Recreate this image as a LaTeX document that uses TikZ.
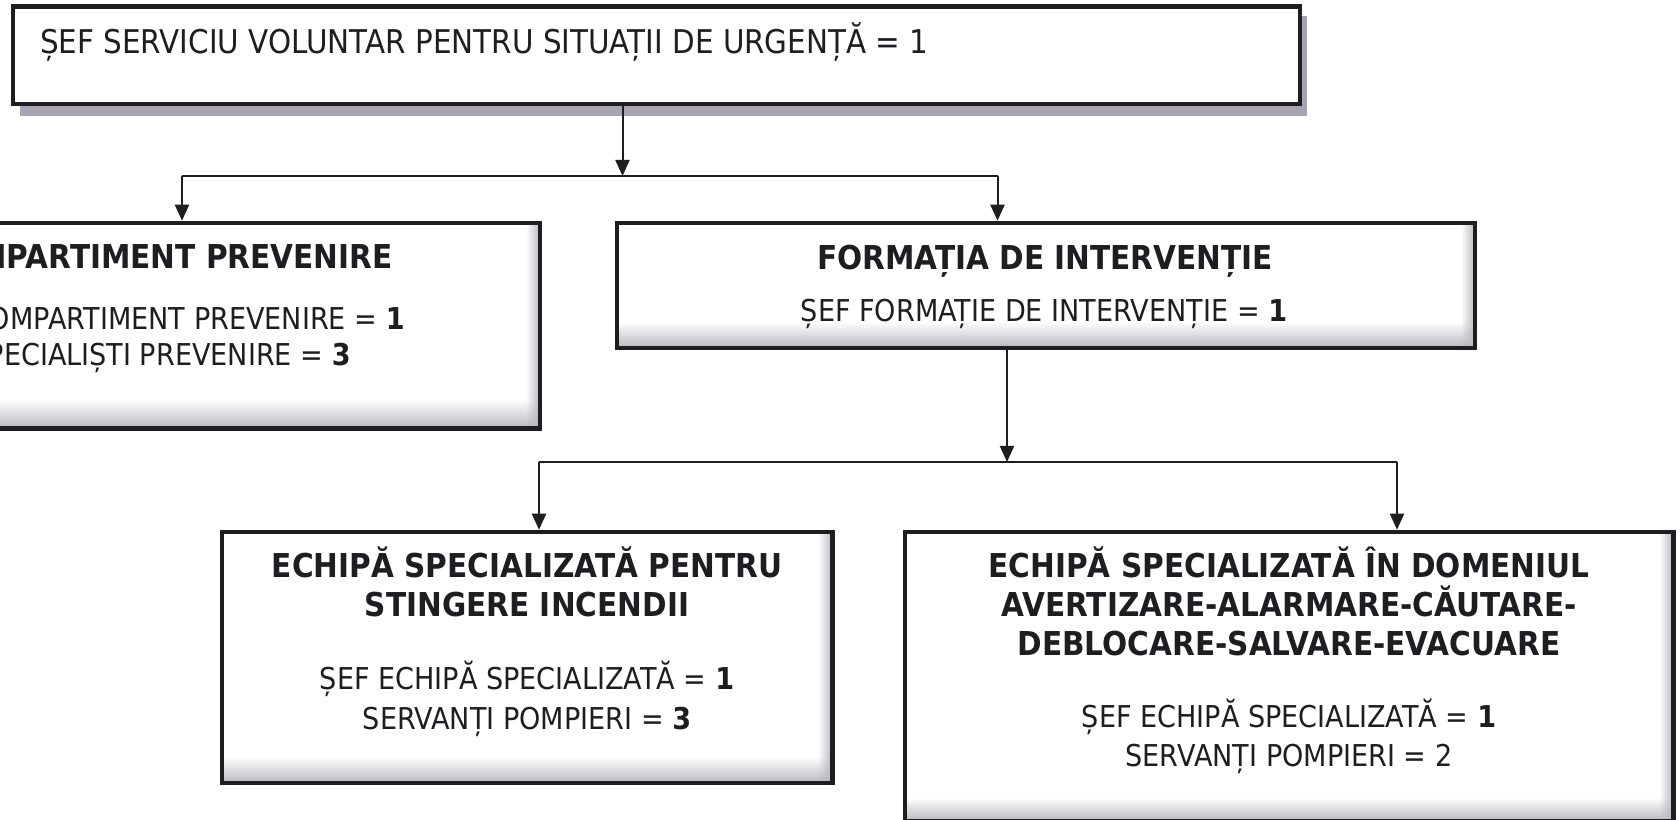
\documentclass[tikz,border=0pt]{standalone}
\usepackage{fontspec}
\setmainfont{DejaVu Sans}[FakeStretch=0.9]
\usetikzlibrary{arrows.meta,fadings}
\definecolor{ink}{HTML}{1E1E22}
\definecolor{shadowc}{HTML}{A7A3B0}
\definecolor{innerg}{HTML}{B8B7BF}
\tikzset{
  boxline/.style={draw=ink, line width=4.5bp, inner sep=0pt},
  conn/.style={draw=ink, line width=2bp},
  arr/.style={conn, -{Triangle[width=14bp,length=16bp]}},
  ttl/.style={font=\fontsize{33}{40}\selectfont\bfseries, inner sep=0pt, text=ink},
  body/.style={font=\fontsize{30.2}{40}\selectfont, inner sep=0pt, text=ink},
  topt/.style={font=\fontsize{32.8}{40}\selectfont, inner sep=0pt, text=ink},
  bshade/.style={fill=innerg, path fading=north},
  rshade/.style={fill=innerg, path fading=west},
}
\begin{document}
\begin{tikzpicture}[x=1bp,y=1bp]
\useasboundingbox (0,0) rectangle (1680,820);
\clip (0,0) rectangle (1680,820);
\fill[white] (0,0) rectangle (1680,820);

% top box shadow
\fill[shadowc] (20,704) rectangle (1307,804);
\fill[white] (13,716) rectangle (1300,813.5);

% inner shadings
\path[bshade] (-210,391.4) rectangle (540,421);
\path[rshade] (526,391.4) rectangle (540,597);
\path[bshade] (617,472) rectangle (1475,498);
\path[rshade] (1461,472) rectangle (1475,597);
\path[bshade] (222,37) rectangle (832.5,63);
\path[rshade] (818,37) rectangle (832.5,288);
\path[bshade] (905,-1.5) rectangle (1673.5,22);
\path[rshade] (1659,-1.5) rectangle (1673.5,288);

% boxes
\node[boxline, minimum width=1287bp, minimum height=97.5bp] (top) at (656.5,764.75) {};
\node[boxline, minimum width=750bp, minimum height=205.6bp] (lbox) at (165,494.2) {};
\node[boxline, minimum width=858bp, minimum height=125bp] (mbox) at (1046,534.5) {};
\node[boxline, minimum width=610.5bp, minimum height=251bp] (blbox) at (527.25,162.5) {};
\node[boxline, minimum width=768.5bp, minimum height=289.5bp] (brbox) at (1289.25,143.25) {};

% connectors
\coordinate (j1) at (622.5,644);
\coordinate (jl) at (182,644);
\coordinate (jr) at (997.5,644);
\draw[arr] (top.south -| j1) -- (j1);
\draw[conn] (jl) -- (jr);
\draw[arr] (jl) -- (jl |- lbox.north);
\draw[arr] (jr) -- (jr |- mbox.north);
\coordinate (j2) at (1007,358);
\coordinate (j2l) at (539,358);
\coordinate (j2r) at (1397,358);
\draw[arr] (mbox.south -| j2) -- (j2);
\draw[conn] (j2l) -- (j2r);
\draw[arr] (j2l) -- (j2l |- blbox.north);
\draw[arr] (j2r) -- (j2r |- brbox.north);

% texts
\node[topt, anchor=base west] (t0) at (40,766.4) {ȘEF SERVICIU VOLUNTAR PENTRU SITUAȚII DE URGENȚĂ = 1};

\node[ttl, anchor=base east] (l1) at (393,551) {COMPARTIMENT PREVENIRE};
\node[body, anchor=base east] (l2) at (405,490.5) {ȘEF COMPARTIMENT PREVENIRE = \textbf{1}};
\node[body, anchor=base east] (l3) at (351,454) {SPECIALIȘTI PREVENIRE = \textbf{3}};

\node[ttl, anchor=base] (m1) at (1045,550) {FORMAȚIA DE INTERVENȚIE};
\node[body, anchor=base] (m2) at (1044,498) {ȘEF FORMAȚIE DE INTERVENȚIE = \textbf{1}};

\node[ttl, anchor=base] (b1) at (527,242.5) {ECHIPĂ SPECIALIZATĂ PENTRU};
\node[ttl, anchor=base] (b2) at (527,203) {STINGERE INCENDII};
\node[body, anchor=base] (b3) at (527,130) {ȘEF ECHIPĂ SPECIALIZATĂ = \textbf{1}};
\node[body, anchor=base] (b4) at (527,90.4) {SERVANȚI POMPIERI = \textbf{3}};

\node[ttl, anchor=base] (r1) at (1289,242.5) {ECHIPĂ SPECIALIZATĂ ÎN DOMENIUL};
\node[ttl, anchor=base] (r2) at (1289,203) {AVERTIZARE-ALARMARE-CĂUTARE-};
\node[ttl, anchor=base] (r3) at (1289,164) {DEBLOCARE-SALVARE-EVACUARE};
\node[body, anchor=base] (r4) at (1289,92.5) {ȘEF ECHIPĂ SPECIALIZATĂ = \textbf{1}};
\node[body, anchor=base] (r5) at (1289,53) {SERVANȚI POMPIERI = 2};
\end{tikzpicture}
\end{document}
